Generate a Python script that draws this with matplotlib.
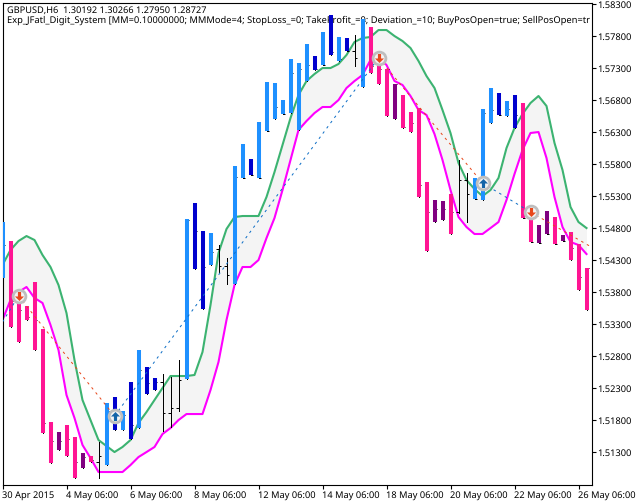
import matplotlib
matplotlib.use('Agg')
from matplotlib import pyplot as plt
from matplotlib.path import Path

plt.rcParams['font.family'] = ['Noto Sans', 'DejaVu Sans']
plt.rcParams['text.hinting'] = 'no_hinting'

BLUE = '#1E90FF'
NAVY = '#0000CD'
PINK = '#FF1493'
PURP = '#800080'
NONE = None

highs = [1.54901, 1.54604, 1.53745, 1.53589, 1.53964, 1.53229, 1.51776, 1.51620, 1.51729, 1.51542,
         1.51292, 1.51245, 1.51464, 1.52073, 1.52167, 1.51948, 1.52401, 1.52901, 1.52636, 1.52464,
         1.52526, 1.52479, 1.52745, 1.54948, 1.55198, 1.54761, 1.54729, 1.54542, 1.54339, 1.55776,
         1.56120, 1.55886, 1.56464, 1.57089, 1.57073, 1.56807, 1.57448, 1.57386, 1.57682, 1.57495,
         1.57870, 1.58136, 1.57792, 1.57776, 1.57823, 1.58073, 1.57948, 1.57386, 1.57292, 1.57057,
         1.56886, 1.56620, 1.56682, 1.55526, 1.55245, 1.55229, 1.55339, 1.55870, 1.55667, 1.55589,
         1.56667, 1.56995, 1.56917, 1.56792, 1.56886, 1.56761, 1.54964, 1.54854, 1.55073, 1.54979,
         1.54698, 1.54745, 1.54557, 1.54182]
lows = [1.54026, 1.53261, 1.53026, 1.53370, 1.52901, 1.51604, 1.51136, 1.51339, 1.51245, 1.50901,
        1.51057, 1.51151, 1.50901, 1.51104, 1.51651, 1.51651, 1.51511, 1.51682, 1.52214, 1.52276,
        1.51636, 1.51698, 1.51948, 1.52448, 1.54167, 1.53542, 1.54229, 1.54120, 1.53932, 1.53932,
        1.55589, 1.55636, 1.55589, 1.56323, 1.56511, 1.56589, 1.56604, 1.56339, 1.57104, 1.57276,
        1.57354, 1.57511, 1.57417, 1.57573, 1.57339, 1.57011, 1.57229, 1.57057, 1.56557, 1.56511,
        1.56370, 1.56307, 1.55292, 1.54448, 1.54901, 1.54932, 1.54714, 1.55042, 1.54901, 1.55261,
        1.55245, 1.56448, 1.56573, 1.56557, 1.56370, 1.54964, 1.54589, 1.54573, 1.54714, 1.54557,
        1.54604, 1.54307, 1.53839, 1.53526]
closes = [1.54542, 1.53667, 1.53526, 1.53417, 1.53370, 1.51761, 1.51479, 1.51479, 1.51511, 1.51151,
          1.51229, 1.51182, 1.51245, 1.51948, 1.51932, 1.51886, 1.51729, 1.52589, 1.52386, 1.52401,
          1.51917, 1.51995, 1.52432, 1.54932, 1.54761, 1.54198, 1.54432, 1.54214, 1.54073, 1.55604,
          1.55589, 1.55636, 1.55589, 1.56323, 1.56698, 1.56589, 1.57229, 1.57292, 1.57354, 1.57292,
          1.57354, 1.57557, 1.57448, 1.57573, 1.57464, 1.58042, 1.57339, 1.57292, 1.57292, 1.57057,
          1.56386, 1.56448, 1.55479, 1.55057, 1.55104, 1.55104, 1.55057, 1.55557, 1.55339, 1.55261,
          1.56604, 1.56651, 1.56573, 1.56667, 1.56573, 1.54964, 1.54589, 1.54573, 1.54714, 1.54557,
          1.54604, 1.54495, 1.54042, 1.54182]
colors = [BLUE, PINK, PINK, PINK, PINK, PINK, PINK, PURP, PINK, PINK,
          PURP, PINK, NONE, BLUE, NAVY, BLUE, NAVY, BLUE, NAVY, NAVY,
          NONE, NONE, NONE, BLUE, NAVY, NAVY, BLUE, NONE, NONE, BLUE,
          BLUE, NAVY, BLUE, BLUE, BLUE, BLUE, BLUE, BLUE, BLUE, NAVY,
          BLUE, NAVY, BLUE, NAVY, NONE, BLUE, PINK, PINK, PINK, PURP,
          PINK, PINK, PINK, PINK, PURP, PURP, PINK, NONE, NONE, BLUE,
          BLUE, BLUE, NAVY, BLUE, NAVY, PINK, PINK, PURP, PURP, PINK,
          PURP, PINK, PINK, PINK]

# bars without a colour body, their left (open) ticks stay visible
plain_bars = [12, 20, 21, 22, 27, 28, 44, 57, 58]
plain_opens = [1.51151, 1.52401, 1.51917, 1.51995, 1.54479, 1.54214, 1.57573, 1.55057, 1.55557]

upper = [1.54229, 1.54464, 1.54604, 1.54682, 1.54620, 1.54386, 1.54198, 1.53917, 1.53479, 1.52745,
         1.52120, 1.51807, 1.51495, 1.51401, 1.51307, 1.51386, 1.51495, 1.51761, 1.51932, 1.52120,
         1.52307, 1.52495, 1.52495, 1.52495, 1.52511, 1.52870, 1.53604, 1.54417, 1.54792, 1.54979,
         1.54995, 1.54995, 1.54995, 1.55292, 1.55682, 1.56104, 1.56526, 1.56886, 1.57104, 1.57214,
         1.57307, 1.57307, 1.57370, 1.57511, 1.57714, 1.57776, 1.57792, 1.57901, 1.57901, 1.57807,
         1.57729, 1.57620, 1.57417, 1.57182, 1.56995, 1.56651, 1.56292, 1.55823, 1.55557, 1.55417,
         1.55307, 1.55401, 1.55589, 1.56057, 1.56370, 1.56589, 1.56761, 1.56870, 1.56714, 1.56136,
         1.55714, 1.55136, 1.54901, 1.54807]
lower = [1.53370, 1.53682, 1.53807, 1.53886, 1.53714, 1.53636, 1.53292, 1.52901, 1.52198, 1.51839,
         1.51417, 1.51214, 1.50995, 1.50995, 1.50995, 1.50995, 1.51104, 1.51229, 1.51307, 1.51386,
         1.51589, 1.51682, 1.51807, 1.51901, 1.51901, 1.51901, 1.52276, 1.52714, 1.53370, 1.53917,
         1.54198, 1.54198, 1.54307, 1.54651, 1.54964, 1.55401, 1.55870, 1.56339, 1.56479, 1.56604,
         1.56698, 1.56698, 1.56807, 1.56995, 1.57104, 1.57198, 1.57432, 1.57479, 1.57354, 1.57104,
         1.57042, 1.56870, 1.56651, 1.56573, 1.56276, 1.55870, 1.55401, 1.54979, 1.54823, 1.54714,
         1.54714, 1.54807, 1.54901, 1.55245, 1.55651, 1.56026, 1.56292, 1.56307, 1.55901, 1.55292,
         1.54823, 1.54589, 1.54542, 1.54401]

# deals: (bar, price), the line colour changes at each marker
deal_x = [0, 2, 14, 47, 60, 66, 73.6]
deal_y = [1.53339, 1.53745, 1.51870, 1.57464, 1.55511, 1.55057, 1.54511]
deal_colors = ['#0F6FC6', '#E8481C', '#0F6FC6', '#E8481C', '#0F6FC6', '#E8481C']
buy_x = [14, 60]
buy_y = [1.51870, 1.55511]
sell_x = [2, 47, 66]
sell_y = [1.53745, 1.57464, 1.55057]

y_ticks = [1.58300, 1.57800, 1.57300, 1.56800, 1.56300, 1.55800, 1.55300, 1.54800,
           1.54300, 1.53800, 1.53300, 1.52800, 1.52300, 1.51800, 1.51300]
x_labels = ['30 Apr 2015', '4 May 06:00', '6 May 06:00', '8 May 06:00', '12 May 06:00',
            '14 May 06:00', '18 May 06:00', '20 May 06:00', '22 May 06:00', '26 May 06:00']
x_ticks = [0, 8, 16, 24, 32, 40, 48, 56, 64, 72]

line1 = 'GBPUSD,H6  1.30192 1.30266 1.27950 1.28727'
line2 = ('Exp_JFatl_Digit_System [MM=0.10000000; MMMode=4; StopLoss_=0; TakeProfit_=0; '
         'Deviation_=10; BuyPosOpen=true; SellPosOpen=tr')

W, H = 643, 504
FS = 6.7
bars = list(range(len(highs)))

fig = plt.figure(figsize=(W / 100, H / 100), dpi=100)
ax = fig.add_axes([2.5 / W, 1 - 484.5 / H, 589 / W, 482 / H])
ax.set_xlim(0, 73.625)
ax.set_ylim(1.50800, 1.58331)

ax.text(0.0076, 0.9835, line1, transform=ax.transAxes, fontsize=6.63, va='center', zorder=1)
ax.text(0.0076, 0.9625, line2, transform=ax.transAxes, fontsize=6.73, va='center', zorder=1)

ax.fill_between(bars, lower, upper, color='#F4F4F4', lw=0, zorder=1.5)
ax.plot(bars, upper, color='#3CB371', lw=1.5, zorder=2)
ax.plot(bars, lower, color='#FF00FF', lw=1.5, zorder=2)

# black OHLC bars below, colour bodies on top
ax.vlines(bars, lows, highs, color='black', lw=0.72, capstyle='projecting', zorder=3)
ax.hlines(closes, bars, [b + 0.36 for b in bars], color='black', lw=0.72, zorder=3)
ax.hlines(plain_opens, [b - 0.36 for b in plain_bars], plain_bars, color='black', lw=0.72, zorder=3)
for b in bars:
    if colors[b] is not None:
        ax.vlines(b, lows[b], highs[b], color=colors[b], lw=2.9, capstyle='butt', zorder=4)

for k in range(len(deal_colors)):
    ax.plot(deal_x[k:k + 2], deal_y[k:k + 2], color=deal_colors[k], lw=0.72,
            ls=(0, (2.5, 4)), zorder=5)

down_arrow = Path([(-0.35, 1), (0.35, 1), (0.35, 0), (1, 0), (0, -1), (-1, 0), (-0.35, 0), (-0.35, 1)], closed=True)
up_arrow = Path([(-0.35, -1), (0.35, -1), (0.35, 0), (1, 0), (0, 1), (-1, 0), (-0.35, 0), (-0.35, -1)], closed=True)
ax.plot(buy_x + sell_x, buy_y + sell_y, ls='none', marker='o', ms=9.2, mfc='#F4F4F4', mec='#BEBEBE', mew=2, zorder=6)
ax.plot(buy_x, buy_y, ls='none', marker=up_arrow, ms=6.5, mfc='#1464A8', mec='none', zorder=7)
ax.plot(sell_x, sell_y, ls='none', marker=down_arrow, ms=6.5, mfc='#E8481C', mec='none', zorder=7)

for s in ax.spines.values():
    s.set_linewidth(0.8)
ax.yaxis.tick_right()
ax.set_yticks(y_ticks)
ax.set_yticklabels(['%.5f' % v for v in y_ticks], fontsize=FS)
ax.set_xticks(x_ticks)
ax.set_xticklabels(x_labels, fontsize=FS, ha='left')
ax.tick_params(axis='y', length=3, width=0.8, pad=0.8)
ax.tick_params(axis='x', length=3, width=0.8, pad=1.5)

fig.savefig('out.png', dpi=100)
